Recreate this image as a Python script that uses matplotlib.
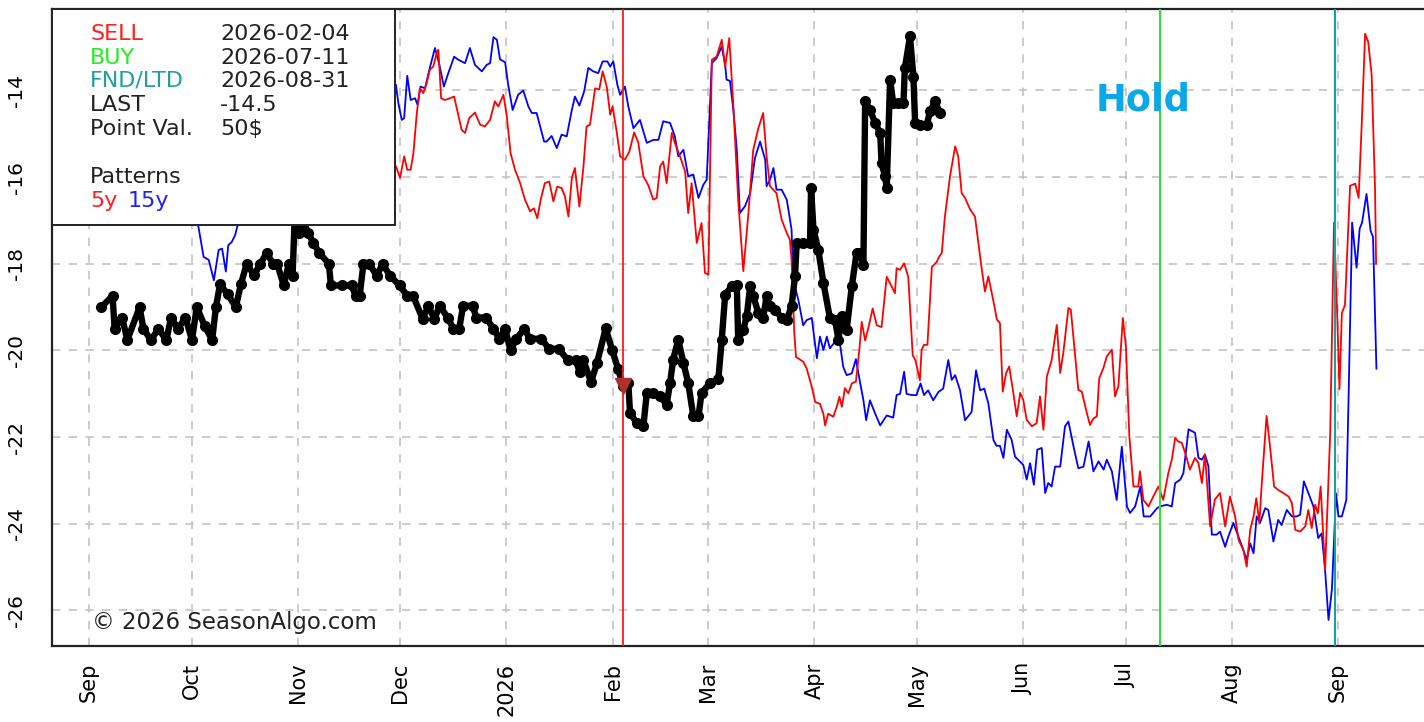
import numpy as np
import pandas as pd
import matplotlib
matplotlib.use('Agg')
import matplotlib.pyplot as plt
from matplotlib.patches import Rectangle

# x values are days counted from 2025-09-01
base = pd.Timestamp('2025-09-01')

black_day = [3.6, 6.9, 7.5, 9.7, 11.2, 14.8, 15.9, 18.1, 20.3, 22.6, 24.0, 26.0, 28.2, 30.1, 31.5,
             33.8, 36.0, 37.1, 38.3, 40.5, 42.9, 44.4, 46.1, 48.3, 50.0, 51.9, 53.9, 55.0, 56.9,
             58.4, 59.5, 60.1, 61.5, 62.5, 64.0, 65.6, 67.3, 70.1, 70.7, 74.0, 76.8, 77.9, 79.1,
             80.2, 81.9, 84.1, 85.8, 88.0, 90.8, 93.0, 94.7, 97.5, 99.2, 100.9, 102.5, 104.8,
             106.5, 108.2, 109.3, 112.1, 113.2, 116.0, 118.2, 119.9, 121.6, 123.2, 124.9, 127.2,
             128.8, 132.2, 134.4, 137.2, 140.0, 142.3, 143.4, 144.5, 146.7, 148.4, 151.0, 152.9,
             154.6, 156.1, 157.6, 158.1, 160.0, 162.0, 163.0, 164.9, 166.9, 168.8, 169.8, 170.7,
             172.2, 173.7, 175.1, 176.6, 178.1, 179.0, 181.5, 183.9, 184.9, 185.9, 187.8, 189.3,
             189.7, 191.2, 192.2, 193.2, 194.1, 195.6, 197.0, 198.0, 199.0, 200.5, 202.4, 203.9,
             205.3, 206.3, 206.8, 208.7, 210.7, 211.0, 211.7, 213.1, 214.6, 216.5, 218.0, 219.0,
             219.9, 221.4, 222.9, 224.3, 225.3, 226.3, 226.8, 228.2, 229.7, 231.2, 231.6, 232.6,
             233.1, 234.1, 235.0, 236.5, 238.0, 238.4, 239.9, 240.9, 241.4, 242.8, 244.8, 245.8,
             247.2, 248.7]
black_val = [-19.0, -18.74, -19.5, -19.24, -19.76, -19.0, -19.5, -19.76, -19.5, -19.76, -19.24,
             -19.5, -19.24, -19.76, -19.0, -19.43, -19.76, -19.0, -18.47, -18.7, -19.0, -18.47,
             -18.0, -18.27, -18.0, -17.76, -18.0, -18.0, -18.5, -18.0, -18.28, -16.95, -17.28,
             -17.0, -17.28, -17.52, -17.75, -18.0, -18.5, -18.5, -18.5, -18.74, -18.74, -18.0,
             -18.0, -18.28, -18.0, -18.28, -18.5, -18.74, -18.74, -19.27, -18.97, -19.27, -18.97,
             -19.24, -19.5, -19.5, -18.97, -18.97, -19.24, -19.24, -19.5, -19.73, -19.5, -20.0,
             -19.73, -19.5, -19.73, -19.73, -19.96, -19.96, -20.23, -20.23, -20.5, -20.23, -20.73,
             -20.3, -19.49, -20.0, -20.42, -20.83, -20.75, -21.44, -21.67, -21.75, -20.98, -20.98,
             -21.06, -21.25, -20.75, -20.21, -19.75, -20.29, -20.75, -21.52, -21.52, -20.98,
             -20.75, -20.67, -19.75, -18.71, -18.52, -18.48, -19.75, -19.52, -19.21, -18.52,
             -18.75, -19.13, -19.25, -18.75, -18.98, -19.06, -19.25, -19.29, -18.98, -18.29,
             -17.52, -17.52, -17.52, -16.25, -17.21, -17.67, -18.44, -19.25, -19.29, -19.75,
             -19.21, -19.52, -18.52, -17.75, -17.75, -18.02, -14.25, -14.44, -14.75, -14.98,
             -15.68, -15.98, -16.25, -13.75, -14.29, -14.29, -14.29, -13.49, -12.75, -13.68,
             -14.75, -14.79, -14.79, -14.48, -14.25, -14.52]

red_day = [-8, -4, 0, 4, 8, 12, 16, 20, 24, 28, 32, 36, 40, 44, 48, 52, 56, 60, 64, 68, 72, 76,
           80, 84, 87, 89.7, 90.9, 92.1, 93.0, 94.0, 94.8, 95.8, 96.7, 97.7, 98.7, 99.6, 100.6,
           101.6, 102.1, 102.9, 104.0, 105.5, 106.7, 107.9, 108.9, 109.9, 111.1, 112.8, 114.3,
           115.7, 117.2, 118.6, 119.6, 121.1, 122.1, 123.2, 124.5, 126.0, 127.4, 128.9, 130.0,
           131.0, 132.0, 133.2, 134.5, 135.7, 136.8, 138.1, 139.1, 140.1, 141.1, 142.0, 143.3,
           144.5, 145.4, 146.4, 147.9, 149.1, 150.1, 151.3, 152.3, 153.0, 154.2, 155.2, 156.6,
           157.9, 159.3, 160.5, 162.0, 163.4, 164.9, 165.9, 166.9, 167.8, 168.8, 170.3, 171.2,
           172.7, 174.2, 175.1, 176.1, 177.6, 179.0, 180.0, 181.0, 182.0, 183.4, 184.9, 185.9,
           187.1, 188.3, 189.7, 191.2, 192.7, 194.1, 195.6, 197.0, 198.0, 199.0, 200.9, 202.4,
           203.9, 204.8, 205.3, 206.1, 206.6, 208.7, 209.7, 211.2, 212.2, 213.6, 214.6, 215.1,
           216.0, 217.5, 218.5, 219.3, 220.0, 220.9, 221.9, 222.9, 224.1, 225.1, 225.8, 226.8,
           227.8, 229.0, 230.2, 231.6, 233.1, 234.6, 235.5, 236.0, 237.0, 238.2, 239.4, 240.7,
           241.5, 242.8, 243.3, 244.0, 245.0, 246.3, 247.7, 248.2, 249.2, 250.1, 251.6, 253.1,
           254.0, 255.0, 256.0, 257.5, 258.9, 259.9, 260.9, 261.8, 262.8, 264.3, 265.3, 266.2,
           267.0, 268.0, 268.9, 270.1, 271.1, 272.1, 273.0, 274.0, 275.5, 276.9, 277.9, 278.9,
           279.9, 281.3, 282.8, 283.8, 284.7, 286.2, 286.9, 288.1, 289.1, 290.1, 291.6, 292.5,
           293.5, 294.5, 295.2, 296.4, 297.4, 298.9, 299.8, 300.8, 302.1, 303.0, 304.0, 305.2,
           306.6, 307.1, 308.1, 309.6, 311.0, 312.5, 313.9, 315.4, 316.4, 317.4, 318.3, 319.3,
           320.3, 321.7, 323.2, 324.2, 325.2, 326.1, 327.6, 329.0, 330.5, 332.0, 333.4, 334.9,
           335.9, 337.3, 338.3, 339.3, 340.3, 341.1, 342.0, 342.7, 344.1, 345.1, 346.3, 347.5,
           349.0, 350.5, 351.5, 352.5, 353.9, 355.4, 356.3, 357.3, 358.3, 359.1, 359.9, 361.2,
           362.7, 363.8, 364.8, 365.4, 366.1, 367.0, 368.5, 370.0, 371.0, 371.9, 372.9, 373.8,
           374.8, 375.8, 376.1]
red_val = [-15.0, -15.3, -14.9, -15.5, -15.2, -15.9, -15.6, -16.3, -16.0, -16.6, -16.2, -16.7,
           -16.3, -15.8, -15.2, -15.6, -15.0, -14.6, -15.2, -14.9, -15.5, -15.9, -15.4, -16.1,
           -15.8, -15.75, -16.02, -15.52, -15.83, -15.83, -15.45, -14.52, -13.95, -14.06, -13.83,
           -13.52, -13.45, -13.14, -13.06, -14.18, -14.22, -14.18, -14.14, -14.56, -14.91, -14.98,
           -14.64, -14.51, -14.79, -14.83, -14.68, -14.25, -14.37, -14.1, -14.6, -15.45, -15.83,
           -16.14, -16.52, -16.79, -16.72, -16.95, -16.52, -16.14, -16.1, -16.56, -16.22, -16.25,
           -16.45, -16.91, -16.02, -15.79, -16.68, -15.75, -14.83, -14.79, -13.95, -13.98, -13.56,
           -13.91, -14.56, -14.37, -14.95, -15.52, -15.6, -15.41, -14.97, -15.2, -15.98, -16.18,
           -16.52, -16.48, -15.75, -15.64, -16.14, -14.98, -15.21, -15.52, -15.87, -16.83, -16.14,
           -17.52, -17.06, -18.21, -18.25, -13.29, -13.22, -12.83, -13.45, -12.79, -14.37, -16.52,
           -18.17, -16.83, -15.37, -14.87, -14.52, -15.52, -16.21, -16.37, -16.98, -17.29, -17.44,
           -17.91, -19.6, -20.15, -20.26, -20.41, -20.84, -21.19, -21.23, -21.46, -21.73, -21.46,
           -21.53, -21.3, -21.07, -21.3, -20.87, -20.99, -20.76, -20.72, -19.99, -19.34, -19.77,
           -19.46, -19.03, -19.42, -19.46, -18.3, -18.53, -18.68, -18.1, -18.14, -17.99, -18.3,
           -20.11, -20.23, -20.69, -19.99, -19.87, -19.87, -18.07, -17.96, -17.87, -17.75, -16.91,
           -15.98, -15.29, -15.52, -16.37, -16.48, -16.75, -16.91, -17.52, -18.14, -18.64, -18.29,
           -18.87, -19.29, -19.37, -20.95, -20.52, -20.37, -20.98, -21.52, -20.98, -21.14, -21.6,
           -21.75, -21.68, -21.06, -21.83, -20.6, -20.22, -19.41, -20.52, -20.06, -19.02, -19.06,
           -20.06, -20.91, -20.95, -21.45, -21.72, -21.57, -21.52, -20.64, -20.41, -20.14, -19.98,
           -21.06, -20.83, -19.25, -19.91, -21.98, -23.14, -23.14, -22.79, -23.45, -23.6, -23.37,
           -23.14, -23.45, -22.83, -22.52, -22.02, -22.1, -22.13, -22.36, -22.75, -22.48, -22.6,
           -23.06, -22.4, -24.06, -23.44, -23.29, -24.06, -23.37, -23.83, -24.37, -24.6, -24.99,
           -24.14, -23.83, -23.41, -23.98, -23.06, -21.51, -22.21, -23.14, -23.22, -23.29, -23.37,
           -23.52, -24.14, -24.18, -24.06, -23.68, -24.1, -23.56, -23.76, -23.14, -25.07, -21.89,
           -17.05, -19.33, -20.89, -19.14, -18.95, -16.2, -16.15, -16.48, -14.78, -12.69, -12.88,
           -13.64, -16.29, -18.0]

blue_day = [-8, -4, 0, 4, 8, 12, 16, 20, 24, 28, 31, 32.0, 33.5, 35.0, 36.5, 37.9, 38.9, 40.0,
            40.7, 41.7, 42.7, 43.3, 46, 50, 54, 58, 62, 66, 70, 74, 78, 82, 86, 89.7, 90.4, 91.4,
            92.1, 93.0, 94.0, 95.3, 96.0, 96.9, 98.2, 99.5, 101.1, 102.4, 103.7, 105.0, 106.7,
            107.9, 109.9, 111.3, 112.8, 114.8, 116.2, 117.2, 118.2, 119.2, 120.1, 121.6, 122.5,
            123.8, 125.4, 126.9, 128.4, 129.4, 130.8, 133.0, 133.7, 135.2, 136.7, 138.1, 139.6,
            141.1, 142.0, 143.3, 144.7, 145.9, 147.4, 148.8, 150.1, 151.5, 152.3, 153.2, 154.4,
            155.2, 156.6, 157.6, 159.1, 161.0, 163.0, 164.9, 166.4, 167.8, 169.8, 171.2, 172.2,
            173.7, 175.1, 176.6, 178.1, 179.5, 180.5, 182.0, 183.4, 184.9, 185.9, 186.3, 187.3,
            188.3, 189.3, 190.2, 191.7, 193.2, 194.6, 196.1, 197.6, 198.0, 199.0, 200.0, 200.9,
            202.4, 203.9, 205.3, 205.8, 207.3, 208.7, 209.7, 211.2, 212.7, 213.6, 214.6, 215.6,
            216.5, 218.0, 219.5, 220.4, 221.4, 222.9, 224.1, 225.3, 226.3, 227.1, 228.2, 229.7,
            231.2, 233.1, 235.0, 236.0, 237.0, 238.2, 238.9, 240.4, 241.8, 243.0, 244.0, 245.2,
            246.7, 248.2, 249.6, 251.1, 252.1, 253.1, 254.5, 256.0, 257.9, 259.2, 260.4, 261.6,
            262.8, 264.3, 265.2, 266.2, 267.2, 268.2, 269.6, 270.6, 273.0, 274.0, 275.0, 276.1,
            277.1, 278.4, 279.4, 280.3, 281.3, 282.3, 283.8, 285.2, 286.2, 287.7, 289.1, 290.6,
            292.1, 293.5, 295.0, 296.5, 297.4, 298.9, 300.3, 301.8, 303.3, 304.2, 305.7, 307.2,
            308.2, 310.1, 312.1, 313.0, 314.9, 316.4, 317.4, 318.9, 319.8, 321.3, 323.2, 324.2,
            325.2, 326.1, 327.1, 328.1, 329.5, 330.5, 332.0, 332.9, 334.4, 335.9, 337.3, 338.3,
            339.3, 340.3, 341.2, 342.2, 343.7, 344.6, 346.1, 347.5, 348.5, 350.0, 351.5, 352.9,
            353.9, 355.0, 356.3, 357.8, 359.2, 360.2, 361.2, 362.2, 363.2, 364.4, 365.1, 366.1,
            367.4, 368.1, 369.1, 370.4, 371.3, 372.0, 373.3, 374.5, 375.2, 376.2]
blue_val = [-14.5, -14.1, -14.4, -14.9, -15.4, -15.1, -15.8, -16.1, -15.9, -16.6, -16.9, -17.15,
            -17.84, -17.91, -18.38, -17.68, -17.65, -18.18, -17.57, -17.5, -17.34, -17.15, -16.6,
            -16.0, -15.4, -15.6, -14.9, -14.5, -14.8, -14.2, -13.8, -14.3, -13.7, -13.87, -14.29,
            -14.68, -14.64, -13.66, -14.22, -14.18, -14.33, -13.91, -13.95, -13.51, -13.02, -13.41,
            -13.91, -13.6, -13.22, -13.29, -13.37, -13.02, -13.41, -13.56, -13.41, -13.37, -12.77,
            -12.83, -13.28, -13.35, -13.87, -14.45, -14.1, -14.0, -14.37, -14.52, -14.52, -15.18,
            -15.18, -15.05, -15.33, -15.02, -15.06, -14.45, -14.14, -14.35, -14.02, -13.48, -13.56,
            -13.6, -13.33, -13.33, -13.45, -13.33, -13.87, -14.1, -13.91, -14.37, -14.87, -14.68,
            -15.21, -15.14, -15.14, -14.71, -14.75, -15.06, -15.52, -15.37, -15.98, -15.94, -16.48,
            -16.18, -16.06, -13.37, -13.25, -12.99, -13.41, -13.75, -13.78, -14.45, -15.37, -16.83,
            -16.67, -16.37, -15.56, -15.18, -15.6, -16.21, -16.06, -15.79, -16.29, -16.29, -16.52,
            -17.21, -18.38, -18.84, -19.42, -19.3, -19.25, -20.18, -19.68, -19.99, -19.68, -19.95,
            -19.8, -19.88, -20.38, -20.57, -20.53, -20.2, -20.73, -21.15, -21.61, -21.15, -21.45,
            -21.73, -21.5, -21.55, -21.03, -21.0, -20.49, -21.0, -21.03, -21.03, -20.76, -21.03,
            -20.92, -21.15, -20.96, -20.88, -20.22, -20.68, -20.57, -20.91, -21.61, -21.42, -20.46,
            -20.92, -20.88, -21.22, -22.07, -22.2, -22.2, -22.48, -21.83, -22.06, -22.45, -22.64,
            -22.98, -22.6, -23.1, -22.29, -22.25, -23.29, -23.06, -23.14, -22.68, -22.68, -21.75,
            -21.64, -22.22, -22.72, -22.68, -22.1, -22.79, -22.56, -22.75, -22.52, -22.79, -23.45,
            -22.22, -23.6, -23.75, -23.6, -23.14, -23.83, -23.83, -23.64, -23.6, -23.56, -23.6,
            -23.06, -22.98, -22.83, -21.82, -21.9, -22.48, -22.52, -22.4, -22.67, -24.25, -24.25,
            -24.18, -24.53, -24.3, -23.98, -24.3, -24.6, -24.83, -24.45, -24.68, -23.83, -23.98,
            -23.64, -23.68, -24.41, -23.91, -24.03, -23.68, -23.83, -23.83, -23.79, -23.02, -23.29,
            -23.6, -24.33, -24.22, -25.07, -26.22, -25.5, -23.3, -23.83, -23.83, -23.45, -20.94,
            -17.05, -18.09, -17.19, -17.05, -16.39, -17.24, -17.38, -20.42]

sell_date = '2026-02-04'
buy_date = '2026-07-11'
fnd_date = '2026-08-31'
last_price = '-14.5'
sell_mark_val = -20.83

month_ticks = pd.date_range('2025-09-01', '2026-09-01', freq='MS')
month_labels = ['Sep', 'Oct', 'Nov', 'Dec', '2026', 'Feb', 'Mar', 'Apr', 'May', 'Jun', 'Jul', 'Aug', 'Sep']
y_ticks = [-26, -24, -22, -20, -18, -16, -14]


def to_dates(days):
    return base + pd.to_timedelta(days, unit='D')


fig = plt.figure(figsize=(14.24, 7.22), dpi=100)
ax = fig.add_axes([52 / 1424, 76 / 722, 1372 / 1424, 637 / 722])

ax.plot(to_dates(blue_day), blue_val, color='#0000ff', lw=1.3, zorder=3)
ax.plot(to_dates(red_day), red_val, color='#ff0000', lw=1.3, zorder=3)
ax.plot(to_dates(black_day), black_val, color='black', lw=4.6, marker='o', ms=7, zorder=4)

ax.axvline(pd.Timestamp(sell_date), color='#ff1a1a', lw=1.3, zorder=5)
ax.axvline(pd.Timestamp(buy_date), color='#33e033', lw=1.5, zorder=5)
ax.axvline(pd.Timestamp(fnd_date), color='#1a9e9e', lw=1.5, zorder=5)
ax.plot(pd.Timestamp(sell_date), sell_mark_val, marker='v', color='#b03030', ms=11, zorder=6)

ax.set_xlim(to_dates([-10.8])[0], to_dates([390.1])[0])
ax.set_ylim(-26.82, -12.12)

ax.set_xticks(month_ticks)
ax.set_xticklabels(month_labels, rotation=90, fontsize=15)
ax.set_yticks(y_ticks)
ax.set_yticklabels([str(v) for v in y_ticks], rotation=90, va='center', fontsize=14.5)
ax.tick_params(axis='x', length=0, pad=12)
ax.tick_params(axis='y', length=0, pad=19)
ax.grid(True, color='#c4c4c4', ls=(0, (5, 5)), lw=1.2, zorder=0)

for s in ['left', 'bottom', 'top']:
    ax.spines[s].set_linewidth(1.6)
    ax.spines[s].set_color('#222222')
ax.spines['right'].set_visible(False)

# info box in the top left corner
ax.add_patch(Rectangle((0, 0.661), 0.25, 0.339, transform=ax.transAxes, fc='white',
                       ec='#222222', lw=1.4, zorder=10, clip_on=False))

rows = [('SELL', sell_date, '#ff2020'), ('BUY', buy_date, '#22ee22'),
        ('FND/LTD', fnd_date, '#20a0a0'), ('LAST', last_price, '#222222'),
        ('Point Val.', '50$', '#222222')]
row_y = [34, 58, 81, 105, 129]
fs = 16
for (name, val, col), py in zip(rows, row_y):
    fig.text(90 / 1424, 1 - py / 722, name, color=col, fontsize=fs, va='center', zorder=11)
    fig.text(220 / 1424, 1 - py / 722, val, color='#222222', fontsize=fs, va='center', zorder=11)
fig.text(90 / 1424, 1 - 177 / 722, 'Patterns', color='#222222', fontsize=fs, va='center', zorder=11)
fig.text(90 / 1424, 1 - 201 / 722, '5y', color='#ff2020', fontsize=fs, va='center', zorder=11)
fig.text(128 / 1424, 1 - 201 / 722, '15y', color='#2020ff', fontsize=fs, va='center', zorder=11)

fig.text(92 / 1424, 1 - 623 / 722, '© 2026 SeasonAlgo.com', color='#222222', fontsize=16.5, va='center')
fig.text(1143 / 1424, 1 - 100 / 722, 'Hold', color='#0aa8e8', fontsize=26.5, weight='bold',
         ha='center', va='center')

fig.savefig('out.png', dpi=100)
